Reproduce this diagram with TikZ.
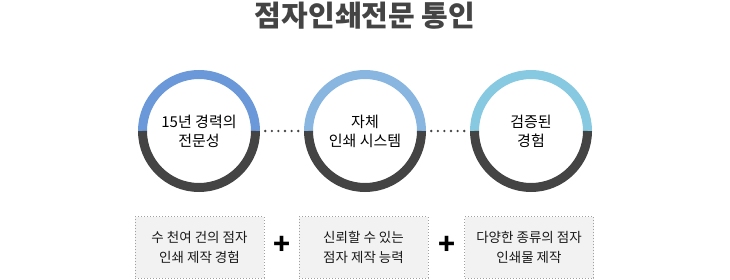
\documentclass[tikz,border=0pt]{standalone}
\usepackage{fontspec}
\setmainfont{Noto Sans CJK KR}
\definecolor{ringA}{HTML}{6A98D8}
\definecolor{ringB}{HTML}{88B6E0}
\definecolor{ringC}{HTML}{86C9E0}
\definecolor{ringDark}{HTML}{444444}
\definecolor{titlecol}{HTML}{444444}
\definecolor{boxfill}{HTML}{F2F2F2}
\definecolor{boxline}{HTML}{A0A0A0}
\begin{document}
\begin{tikzpicture}[x=1pt,y=-1pt,
  circnode/.style={circle, minimum size=122pt, inner sep=0pt, align=center,
    font=\fontsize{15}{19}\selectfont, text=black},
  infobox/.style={draw=boxline, dotted, line width=1pt, fill=boxfill, minimum width=129pt,
    minimum height=61pt, inner sep=0pt, align=center, font=\fontsize{13.5}{20}\selectfont, text=black!90},
  plusnode/.style={font=\fontsize{28}{28}\selectfont\bfseries, inner sep=0pt},
  dotline/.style={line width=2.6pt, line cap=round, dash pattern=on 0pt off 6.6pt, color=ringDark, shorten <=5pt, shorten >=5pt}
]
\useasboundingbox (0,0) rectangle (730,280);
\node[font=\fontsize{29}{29}\selectfont\bfseries, text=titlecol] (title) at (365,16) {점자인쇄전문 통인};

\node[circnode] (c1) at (199,131) {15년 경력의\\전문성};
\node[circnode] (c2) at (365,131) {자체\\인쇄 시스템};
\node[circnode] (c3) at (531,131) {검증된\\경험};

\foreach \c/\col in {c1/ringA, c2/ringB, c3/ringC}{
  \draw[line width=9pt, \col] ([xshift=-56.5pt]\c.center) arc[start angle=180, end angle=0, radius=56.5pt];
  \draw[line width=9pt, ringDark] ([xshift=56.5pt]\c.center) arc[start angle=0, end angle=-180, radius=56.5pt];
}

\draw[dotline] (c1.east) -- (c2.west);
\draw[dotline] (c2.east) -- (c3.west);

\node[infobox] (b1) at (199.5,247.5) {수 천여 건의 점자\\인쇄 제작 경험};
\node[infobox] (b2) at (363.5,247.5) {신뢰할 수 있는\\점자 제작 능력};
\node[infobox] (b3) at (529,247.5) {다양한 종류의 점자\\인쇄물 제작};

\node[plusnode] (p1) at (282,245) {+};
\node[plusnode] (p2) at (447,245) {+};
\end{tikzpicture}
\end{document}
